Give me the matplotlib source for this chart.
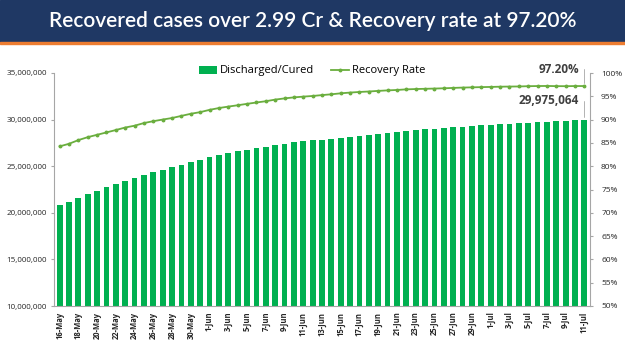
import matplotlib.pyplot as plt
from matplotlib.ticker import FuncFormatter
import numpy as np

# Data (16-May to 11-Jul, daily)
dates = (["%d-May" % d for d in range(16, 32)] +
         ["%d-Jun" % d for d in range(1, 31)] +
         ["%d-Jul" % d for d in range(1, 12)])

cured = [20795335, 21174076, 21596512, 21986363, 22355440, 22717630, 23070365,
         23425467, 23728011, 24054861, 24350816, 24633951, 24893410, 25154097,
         25447032, 25697207, 25947629, 26179085, 26390584, 26597655, 26779000,
         26948555, 27104091, 27252641, 27401385, 27555457, 27693266, 27780000,
         27860000, 27941000, 28062000, 28180000, 28288000, 28400000, 28500000,
         28603000, 28694000, 28780000, 28863000, 28944000, 29025000, 29103000,
         29178000, 29254000, 29326000, 29394000, 29457000, 29519000, 29576000,
         29633000, 29688000, 29743000, 29795000, 29843000, 29888000, 29932000,
         29975064]

rate = [84.25, 84.81, 85.60, 86.23, 86.74, 87.25, 87.76, 88.30, 88.69, 89.26,
        89.66, 90.01, 90.34, 90.80, 91.25, 91.60, 92.09, 92.48, 92.79, 93.08,
        93.38, 93.67, 93.94, 94.29, 94.55, 94.77, 94.93, 95.07, 95.26, 95.43,
        95.64, 95.80, 95.93, 96.03, 96.16, 96.27, 96.36, 96.49, 96.56, 96.61,
        96.66, 96.72, 96.80, 96.87, 96.92, 96.97, 97.01, 97.06, 97.09, 97.11,
        97.17, 97.20, 97.22, 97.18, 97.17, 97.20, 97.20]

title = "Recovered cases over 2.99 Cr & Recovery rate at 97.20%"

bar_color = "#00B050"
line_color = "#6AAE3E"
grey = "#A6A6A6"

fig = plt.figure(figsize=(6.25, 3.51), dpi=100)

# header band
fig.patches.append(plt.Rectangle((0, 1 - 42 / 351), 1, 42 / 351, transform=fig.transFigure,
                                 color="#1F3864", zorder=0))
fig.patches.append(plt.Rectangle((0, 1 - 44 / 351), 1, 2 / 351, transform=fig.transFigure,
                                 color="#ED7D31", zorder=0))
fig.text(0.5, 1 - 21 / 351, title, color="white", fontsize=15, family="Lato",
         fontweight="semibold", ha="center", va="center")

ax = fig.add_axes([54 / 625, 1 - 306 / 351, 536 / 625, 233 / 351])
x = np.arange(len(dates))
bars = ax.bar(x, cured, width=0.62, color=bar_color, label="Discharged/Cured", zorder=2)
ax.set_ylim(10000000, 35000000)
ax.set_xlim(-0.6, len(dates) - 0.4)
ax.yaxis.set_major_formatter(FuncFormatter(lambda v, p: "{:,.0f}".format(v)))
ax.set_xticks(x[::2])
ax.set_xticklabels(dates[::2], rotation=90, fontsize=5.5, fontweight="bold",
                   family="Open Sans", color="#262626")
for lab in ax.get_yticklabels():
    lab.set_fontsize(5.8)
    lab.set_family("Open Sans")
    lab.set_color("#262626")

for s in ["top", "right"]:
    ax.spines[s].set_visible(False)
for s in ["left", "bottom"]:
    ax.spines[s].set_color(grey)
    ax.spines[s].set_linewidth(0.8)
ax.tick_params(axis="x", length=0, pad=4)
ax.tick_params(axis="y", length=2, color=grey, pad=3)

ax2 = ax.twinx()
line, = ax2.plot(x, rate, color=line_color, lw=1.3, marker="o", markersize=1.8,
                 label="Recovery Rate", zorder=3)
ax2.set_ylim(50, 100)
ax2.set_yticks(np.arange(50, 101, 5))
ax2.set_yticklabels(["%d%%" % v for v in range(50, 101, 5)], fontsize=6,
                    family="Open Sans", color="#262626")
for s in ["top", "left", "bottom"]:
    ax2.spines[s].set_visible(False)
ax2.spines["right"].set_color(grey)
ax2.spines["right"].set_linewidth(0.8)
ax2.tick_params(axis="y", length=2, color=grey, pad=6)

# data labels on the last point
ax2.annotate("%.2f%%" % rate[-1], xy=(x[-1], rate[-1]), xytext=(-4, 12),
             textcoords="offset points", ha="right", va="center", fontsize=8.5,
             fontweight="bold", family="Open Sans", color="#404040",
             arrowprops=dict(arrowstyle="-", color=grey, lw=0.6,
                             connectionstyle="angle,angleA=0,angleB=90,rad=0"))
ax.annotate("{:,}".format(cured[-1]), xy=(x[-1], cured[-1]), xytext=(-4, 14),
            textcoords="offset points", ha="right", va="center", fontsize=8.5,
            fontweight="bold", family="Open Sans", color="#404040",
            arrowprops=dict(arrowstyle="-", color=grey, lw=0.6,
                            connectionstyle="angle,angleA=0,angleB=90,rad=0"))

fig.legend([bars, line], ["Discharged/Cured", "Recovery Rate"], loc="center",
           bbox_to_anchor=(0.5, 1 - 71 / 351), ncol=2, frameon=False,
           prop={"family": "Open Sans", "size": 8}, handlelength=1.6,
           columnspacing=1.5, handletextpad=0.3)

fig.savefig("out.png", dpi=100)
